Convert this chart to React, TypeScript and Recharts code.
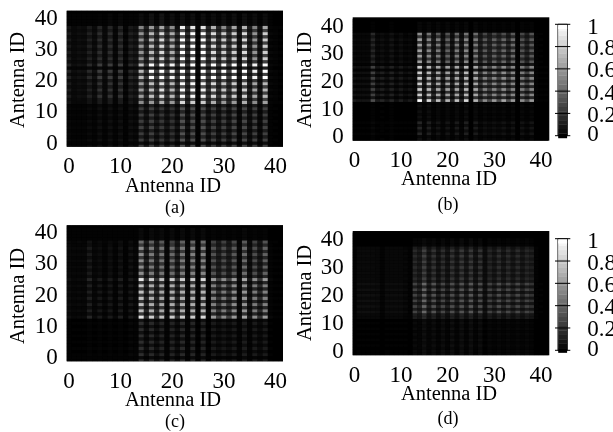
import React from "react";
import {
  ScatterChart,
  Scatter,
  XAxis,
  YAxis,
  CartesianGrid,
  ReferenceArea,
} from "recharts";

// brightness in percent, one entry per antenna column 0..41
const blankRow = [0,0,0,0,0,0,0,0,0,0,0,0,0,0,0,0,0,0,0,0,0,0,0,0,0,0,0,0,0,0,0,0,0,0,0,0,0,0,0,0,0,0];

const aPeak = [13,5,7,6,16,6,24,5,24,4,24,3,16,11,72,20,98,25,100,25,95,20,100,20,100,3,100,25,100,25,100,25,100,10,100,15,95,10,100,3,2,1];
const aUpper = [10,4,6,5,13,5,18,4,18,3,18,3,13,9,58,15,72,20,85,20,68,18,100,18,100,3,100,20,85,20,80,20,80,8,85,12,58,8,80,3,2,1];
const aTop = [8,3,5,4,10,4,15,3,15,3,15,2,10,7,52,12,60,15,65,15,55,5,95,15,90,2,90,15,70,15,55,15,65,6,70,10,50,6,65,2,1,1];
const aLower = [11,4,6,5,13,5,20,4,20,3,20,3,13,9,62,16,75,20,88,20,72,18,98,18,98,3,95,20,85,20,78,20,80,8,82,12,65,8,72,3,2,1];
const aEdge = [7,3,3,3,7,3,10,3,10,2,10,2,9,5,55,12,60,15,68,15,60,14,85,14,80,2,80,16,68,16,60,16,60,6,68,10,55,6,62,2,1,1];
const aLow = [3,2,2,2,4,2,6,2,6,2,6,1,6,4,24,8,25,9,22,8,20,7,32,7,30,1,30,9,25,8,25,9,28,4,28,6,25,4,25,1,1,0];
const aOdd = [5,3,4,3,7,3,10,3,10,2,10,1,7,5,22,8,25,10,28,10,24,8,30,8,30,1,30,10,26,10,25,10,25,4,26,6,22,4,25,1,1,0];
const aOddLow = [2,1,1,1,2,1,3,1,3,1,3,1,3,2,10,4,11,4,10,4,10,3,14,3,14,1,14,4,11,4,11,4,12,2,12,3,10,2,11,1,0,0];
const aFaint = [1,1,1,1,1,1,2,1,3,1,3,1,2,2,5,2,7,2,8,2,6,2,6,2,6,1,6,2,5,2,6,2,6,1,6,2,5,1,5,1,0,0];
const aDim = [2,2,2,2,3,2,4,2,4,1,4,1,3,3,10,4,12,5,14,5,12,4,15,4,15,1,15,5,13,5,12,5,12,2,13,3,11,2,12,1,0,0];

const bPeak = [10,8,8,8,30,10,15,8,15,6,12,6,10,5,100,12,85,20,75,15,70,15,75,15,85,2,70,25,55,30,60,30,65,30,60,2,55,30,60,2,1,1];
const bMid = [7,6,6,6,25,8,12,6,13,5,10,5,8,4,80,10,72,15,65,12,62,12,65,12,72,2,65,20,50,25,52,25,55,25,52,2,48,25,52,2,1,1];
const bUpper = [4,3,3,3,15,4,6,3,8,3,6,3,4,2,62,8,52,10,48,8,38,8,48,8,52,1,48,12,35,14,38,18,40,16,42,1,32,14,35,1,1,0];
const bTop = [4,3,3,3,16,4,5,3,7,3,5,2,4,2,55,6,45,8,35,6,32,6,40,6,45,1,42,10,28,12,28,15,30,12,35,1,28,12,32,1,1,0];
const bOdd = [2,2,2,2,8,2,3,2,4,1,3,1,2,1,22,4,20,6,18,4,18,4,20,4,22,1,20,8,15,10,16,10,16,8,16,1,15,8,15,1,0,0];
const bLow = [1,1,1,1,3,1,1,1,2,1,1,1,1,1,15,2,12,3,8,2,8,2,10,2,12,0,10,3,6,4,6,4,7,3,7,0,7,3,8,0,0,0];
const bOddLow = [0,0,0,0,1,0,1,0,1,0,0,0,0,0,6,1,5,1,3,1,3,1,4,1,5,0,4,1,3,2,3,2,3,1,3,0,3,1,3,0,0,0];
const bFaint = [0,0,0,0,1,0,0,0,1,0,0,0,0,0,3,1,3,1,3,1,3,1,3,1,3,0,3,1,2,1,2,1,2,1,2,0,2,1,2,0,0,0];
const bDim = [1,1,1,1,4,1,2,1,2,1,2,1,1,1,12,2,10,3,9,2,9,2,10,2,11,1,10,4,8,5,8,5,8,4,8,1,8,4,8,1,0,0];

const cPeak = [6,3,4,4,15,4,10,3,10,3,12,2,10,5,90,18,80,20,75,5,80,20,80,5,80,2,85,2,60,25,55,25,60,5,65,10,55,20,60,3,1,1];
const cMid = [5,3,4,3,12,3,9,3,9,2,10,2,9,4,75,15,68,16,65,4,68,16,68,4,68,2,70,2,50,20,48,20,55,4,58,8,48,16,50,2,1,1];
const cUpper = [4,3,3,3,10,3,5,2,6,2,7,1,7,3,55,12,48,12,45,3,42,12,48,3,50,2,52,2,32,12,30,12,35,3,42,6,30,10,38,2,1,1];
const cTop = [3,2,3,2,7,2,4,2,4,2,5,1,5,2,42,10,38,10,35,2,25,8,38,2,40,1,42,1,25,10,25,9,28,2,35,4,25,8,32,1,1,0];
const cOdd = [3,2,2,2,5,2,3,1,4,1,4,1,3,2,22,6,20,8,20,2,20,6,22,2,22,1,22,1,15,8,14,8,16,2,18,3,14,6,15,1,0,0];
const cLow = [1,1,1,1,2,1,2,1,2,1,2,1,3,2,18,5,16,6,14,2,14,5,16,2,15,1,14,1,10,5,9,5,10,2,11,2,10,4,10,1,0,0];
const cOddLow = [1,0,0,0,1,0,1,0,1,0,1,0,1,1,7,2,6,2,6,1,6,2,6,1,6,0,6,0,4,2,4,2,4,1,5,1,4,2,4,0,0,0];
const cFaint = [1,1,1,1,1,1,1,1,1,1,1,1,1,1,4,1,4,2,4,1,4,1,4,1,4,1,4,1,2,1,2,1,2,1,3,1,2,1,2,0,0,0];

const dStrong = [1,6,6,6,6,5,2,5,5,5,5,4,1,26,14,40,12,32,12,28,12,30,12,32,12,34,10,30,7,26,14,30,15,28,15,28,14,26,20,1,1,0];
const dUpper = [1,4,4,4,4,3,1,3,3,3,3,3,1,16,10,25,9,20,8,18,8,20,9,22,9,22,8,20,5,15,9,18,9,17,9,17,9,15,12,1,0,0];
const dEven = [1,3,3,3,3,3,1,3,3,3,3,2,1,11,7,16,6,12,5,11,5,12,6,13,6,13,5,11,4,10,6,11,6,11,6,10,6,10,8,1,0,0];
const dLow = [0,1,1,1,1,1,0,1,1,1,1,1,0,4,2,6,2,5,2,5,2,6,2,6,2,6,2,5,1,3,2,3,2,3,2,3,2,3,2,0,0,0];
const dFaint = [0,0,0,0,0,0,0,0,0,0,0,0,0,2,2,4,2,3,1,3,1,3,1,4,1,4,1,3,0,2,1,2,1,2,1,2,1,2,1,0,0,0];

// row numbers top to bottom, and which column profile each row of a panel uses
const rowNumbers = [41,40,39,38,37,36,35,34,33,32,31,30,29,28,27,26,25,24,23,22,21,20,19,18,17,16,15,14,13,12,11,10,9,8,7,6,5,4,3,2,1,0,-1,-2];

const aRows = [blankRow,aFaint,aFaint,aFaint,aFaint,aTop,aOdd,aUpper,aOdd,aUpper,aOdd,aUpper,aOdd,aUpper,aOdd,aUpper,aOdd,aPeak,aDim,aPeak,aOdd,aPeak,aOdd,aLower,aOdd,aLower,aOdd,aLower,aOdd,aEdge,aOddLow,aLow,aOddLow,aLow,aOddLow,aLow,aOddLow,aLow,aOddLow,aLow,aOddLow,aLow,aFaint,aLow];
const bRows = [blankRow,bFaint,bFaint,bFaint,bFaint,bTop,bOdd,bUpper,bOdd,bUpper,bOdd,bUpper,bOdd,bUpper,bOdd,bUpper,bDim,bMid,bDim,bMid,bOdd,bMid,bOdd,bMid,bOdd,bMid,bOdd,bMid,bOdd,bPeak,bFaint,bOddLow,bFaint,bOddLow,bFaint,bOddLow,bFaint,bLow,bOddLow,bLow,bOddLow,bLow,bFaint,bOddLow];
const cRows = [blankRow,cFaint,cFaint,cFaint,cFaint,cTop,cOdd,cUpper,cOdd,cUpper,cOdd,cUpper,cOdd,cUpper,cOdd,cUpper,cOdd,cPeak,cOdd,cMid,cOdd,cMid,cOdd,cMid,cOdd,cMid,cOdd,cMid,cOdd,cPeak,cOddLow,cLow,cOddLow,cLow,cOddLow,cLow,cOddLow,cLow,cOddLow,cLow,cOddLow,cLow,cFaint,cLow];
const dRows = [blankRow,blankRow,dFaint,dFaint,dFaint,dEven,dUpper,dEven,dUpper,dEven,dUpper,dEven,dUpper,dEven,dUpper,dEven,dUpper,dEven,dStrong,dEven,dStrong,dEven,dStrong,dEven,dStrong,dEven,dStrong,dEven,dStrong,dEven,dEven,dFaint,dLow,dFaint,dLow,dFaint,dLow,dFaint,dLow,dFaint,dLow,dFaint,dLow,dLow];

const axisTicks = [0, 10, 20, 30, 40];
const barTicks = [0, 0.2, 0.4, 0.6, 0.8, 1];
const barLevels = [0,0.04,0.08,0.12,0.16,0.2,0.24,0.28,0.32,0.36,0.4,0.44,0.48,0.52,0.56,0.6,0.64,0.68,0.72,0.76,0.8,0.84,0.88,0.92,0.96,1];

const FONT = "'Liberation Serif', serif";

type Box = { x: number; y: number; w: number; h: number };
type Cell = { col: number; row: number; v: number };

const toCells = (rows: number[][]): Cell[] =>
  rows.flatMap((profile, i) =>
    profile.map((pct, col) => ({ col, row: rowNumbers[i], v: pct / 100 }))
  );

const gray = (v: number) => {
  const g = Math.round(v * 255);
  return `rgb(${g},${g},${g})`;
};

const Heat = ({
  cells,
  box,
  left,
  top,
  xDomain,
  yDomain,
  yShift,
}: {
  cells: Cell[];
  box: Box;
  left: number;
  top: number;
  xDomain: [number, number];
  yDomain: [number, number];
  yShift: number;
}) => {
  const width = 296;
  const height = 216;
  const cw = box.w / (xDomain[1] - xDomain[0]);
  const ch = box.h / (yDomain[1] - yDomain[0]);

  const cellShape = (p: any) => (
    <rect
      x={p.cx - cw / 2 - 0.1}
      y={p.cy - ch / 2 - 0.1}
      width={cw + 0.2}
      height={ch + 0.2}
      fill={gray(p.payload.v)}
    />
  );

  const yTick = (p: any) => (
    <text
      x={p.x}
      y={p.y + yShift}
      textAnchor="end"
      dominantBaseline="central"
      fontFamily={FONT}
      fontSize={23}
      fill="#000"
    >
      {p.payload.value}
    </text>
  );

  return (
    <div style={{ position: "absolute", left, top }}>
      <ScatterChart
        width={width}
        height={height}
        margin={{
          top: box.y - top,
          left: 0,
          right: left + width - box.x - box.w,
          bottom: 0,
        }}
      >
        <CartesianGrid fill="#030303" stroke="none" />
        <XAxis
          type="number"
          dataKey="col"
          domain={xDomain}
          ticks={axisTicks}
          allowDataOverflow
          axisLine={false}
          tickLine={false}
          tickSize={0}
          tickMargin={10}
          interval={0}
          height={height - (box.y - top) - box.h}
          tick={{ fontFamily: FONT, fontSize: 23, fill: "#000" }}
        />
        <YAxis
          type="number"
          dataKey="row"
          domain={yDomain}
          ticks={axisTicks}
          allowDataOverflow
          axisLine={false}
          tickLine={false}
          tickSize={0}
          tickMargin={9}
          interval={0}
          width={box.x - left}
          tick={yTick}
        />
        <Scatter data={cells} isAnimationActive={false} shape={cellShape} />
      </ScatterChart>
    </div>
  );
};

const ColorBar = ({ box, left, top }: { box: Box; left: number; top: number }) => {
  const width = 90;
  const height = 130;
  const stepH = box.h / (barLevels.length - 1);
  const data = barLevels.map((v) => ({ pos: 0.5, v }));

  const stepShape = (p: any) => (
    <rect
      x={box.x - left + 0.2}
      y={Math.max(p.cy - stepH / 2, box.y - top)}
      width={box.w - 0.4}
      height={stepH + 0.3}
      fill={gray(p.payload.v)}
    />
  );

  const barTick = (p: any) => {
    const value = p.payload.value;
    const shift = value === 1 ? 2 : value === 0 ? -2 : 1;
    return (
      <g>
        <line
          x1={box.x - left - 3}
          x2={box.x - left + box.w + 3}
          y1={p.y}
          y2={p.y}
          stroke="#000"
          strokeWidth={1}
        />
        <text
          x={p.x}
          y={p.y + shift}
          textAnchor="start"
          dominantBaseline="central"
          fontFamily={FONT}
          fontSize={23}
          fill="#000"
        >
          {value}
        </text>
      </g>
    );
  };

  return (
    <div style={{ position: "absolute", left, top }}>
      <ScatterChart
        width={width}
        height={height}
        margin={{
          top: box.y - top,
          left: box.x - left,
          right: 0,
          bottom: top + height - box.y - box.h,
        }}
      >
        <XAxis type="number" dataKey="pos" domain={[0, 1]} hide />
        <YAxis
          type="number"
          dataKey="v"
          orientation="right"
          domain={[0, 1]}
          ticks={barTicks}
          axisLine={false}
          tickLine={false}
          tickSize={0}
          tickMargin={20}
          interval={0}
          width={width - (box.x - left) - box.w}
          tick={barTick}
        />
        <Scatter data={data} isAnimationActive={false} shape={stepShape} />
        <ReferenceArea
          x1={0}
          x2={1}
          y1={0}
          y2={1}
          fill="none"
          stroke="#000"
          strokeWidth={1}
          ifOverflow="visible"
        />
      </ScatterChart>
    </div>
  );
};

const Label = ({
  x,
  y,
  size,
  rotate,
  children,
}: {
  x: number;
  y: number;
  size: number;
  rotate?: boolean;
  children: React.ReactNode;
}) => (
  <div
    style={{
      position: "absolute",
      left: x,
      top: y,
      transform: `translate(-50%,-50%)${rotate ? " rotate(-90deg)" : ""}`,
      fontFamily: FONT,
      fontSize: size,
      lineHeight: 1,
      whiteSpace: "nowrap",
      color: "#000",
    }}
  >
    {children}
  </div>
);

const wideX: [number, number] = [-0.43, 41.43];
const wideY: [number, number] = [-2.08, 41.4];
const narrowX: [number, number] = [-0.36, 41.76];
const narrowY: [number, number] = [-2.46, 42.1];

export default function App() {
  return (
    <div
      style={{
        position: "absolute",
        left: 0,
        top: 0,
        width: 613,
        height: 432,
        overflow: "hidden",
        background: "#fff",
        filter: "blur(0.4px)",
      }}
    >
      <Heat cells={toCells(aRows)} box={{ x: 66.7, y: 10.7, w: 216.3, h: 136 }} left={0} top={0} xDomain={wideX} yDomain={wideY} yShift={2} />
      <Heat cells={toCells(bRows)} box={{ x: 352.7, y: 17.3, w: 196.6, h: 123.4 }} left={300} top={0} xDomain={narrowX} yDomain={narrowY} yShift={2} />
      <Heat cells={toCells(cRows)} box={{ x: 66.7, y: 225.3, w: 216.3, h: 136 }} left={0} top={216} xDomain={wideX} yDomain={wideY} yShift={2} />
      <Heat cells={toCells(dRows)} box={{ x: 352.7, y: 231, w: 196.6, h: 124.3 }} left={300} top={216} xDomain={narrowX} yDomain={narrowY} yShift={2} />

      <ColorBar box={{ x: 558, y: 24.3, w: 9.3, h: 111.4 }} left={550} top={15} />
      <ColorBar box={{ x: 558, y: 238.7, w: 9.3, h: 111.6 }} left={550} top={229} />

      <Label x={17} y={80} size={20.5} rotate>Antenna ID</Label>
      <Label x={304} y={80} size={20.5} rotate>Antenna ID</Label>
      <Label x={17} y={296} size={20.5} rotate>Antenna ID</Label>
      <Label x={304} y={293} size={20.5} rotate>Antenna ID</Label>

      <Label x={173} y={185} size={20.5}>Antenna ID</Label>
      <Label x={449} y={178} size={20.5}>Antenna ID</Label>
      <Label x={173} y={399} size={20.5}>Antenna ID</Label>
      <Label x={449} y={393} size={20.5}>Antenna ID</Label>

      <Label x={175} y={207} size={18}>(a)</Label>
      <Label x={448} y={204} size={18}>(b)</Label>
      <Label x={175} y={421} size={18}>(c)</Label>
      <Label x={448} y={418} size={18}>(d)</Label>
    </div>
  );
}
